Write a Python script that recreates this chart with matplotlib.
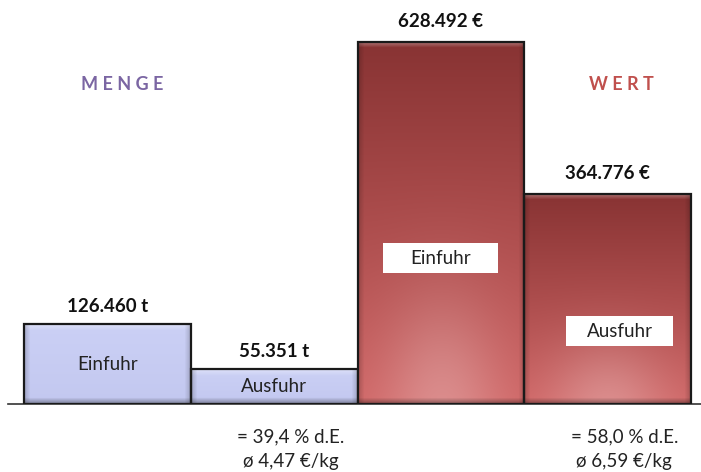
import numpy as np
import matplotlib
matplotlib.use("Agg")
import matplotlib.pyplot as plt
from matplotlib.colors import to_rgb
from matplotlib.patches import Rectangle

plt.rcParams["font.family"] = ["Lato", "DejaVu Sans"]

# Data
categories = ["Einfuhr", "Ausfuhr", "Einfuhr", "Ausfuhr"]
menge = [126460, 55351]          # t
wert = [628492, 364776]          # €
menge_labels = ["126.460 t", "55.351 t"]
wert_labels = ["628.492 €", "364.776 €"]
notes_menge = ["= 39,4 % d.E.", "ø 4,47 €/kg"]
notes_wert = ["= 58,0 % d.E.", "ø 6,59 €/kg"]


def bar_image(ax, bar, top, bottom, glow=0.0, bevel=6):
    # build a bevelled gradient image in pixel size of the bar
    (x0, y0) = ax.transData.transform((bar.get_x(), bar.get_y()))
    (x1, y1) = ax.transData.transform((bar.get_x() + bar.get_width(),
                                       bar.get_y() + bar.get_height()))
    W, H = max(int(abs(x1 - x0)), 2), max(int(abs(y1 - y0)), 2)
    top = np.array(to_rgb(top))
    bottom = np.array(to_rgb(bottom))
    t = np.linspace(0, 1, H)[:, None, None]
    img = np.broadcast_to(top + (bottom - top) * t, (H, W, 3)).copy()
    yy = np.arange(H)[:, None]
    xx = np.arange(W)[None, :]
    if glow:
        g = glow * np.exp(-((xx / W - 0.5) / 0.35) ** 2 - ((yy / H - 1.0) / 0.3) ** 2)
        img = img + (1 - img) * g[:, :, None]
    light = np.clip(1 - yy / bevel, 0, 1) * 0.35
    img = img + (1 - img) * light[:, :, None]
    dark_b = np.clip(1 - (H - 1 - yy) / bevel, 0, 1) * 0.35
    dark_s = np.clip(1 - np.minimum(xx, W - 1 - xx) / bevel, 0, 1) * 0.18
    img = img * (1 - dark_b[:, :, None]) * (1 - dark_s[:, :, None])
    return np.clip(img, 0, 1)


def fill_bar(ax, bar, img):
    x0, y0 = bar.get_x(), bar.get_y()
    w, h = bar.get_width(), bar.get_height()
    im = ax.imshow(img, extent=(x0, x0 + w, y0, y0 + h), aspect="auto",
                   origin="upper", zorder=2, interpolation="bilinear")
    im.set_clip_path(bar)


fig = plt.figure(figsize=(7.01, 4.72), dpi=100)
ax = fig.add_axes([8 / 701, 68 / 472, 1 - 8 / 701, 404 / 472])
ax2 = ax.twinx()

x_menge = np.arange(len(menge))
x_wert = np.arange(len(wert)) + len(menge)

bars_m = ax.bar(x_menge, menge, width=1.0, facecolor="none",
                edgecolor="#1a1a1a", linewidth=1.6, zorder=3)
bars_w = ax2.bar(x_wert, wert, width=1.0, facecolor="none",
                 edgecolor="#1a1a1a", linewidth=1.6, zorder=3)

ax.set_xlim(-0.5 - 16 / 166.75, 3.5 + 10 / 166.75)
ax.set_ylim(0, 640000)
ax2.set_ylim(0, 701000)

for b in bars_m:
    fill_bar(ax, b, bar_image(ax, b, "#cbd0f5", "#c3c8f0"))
for b in bars_w:
    fill_bar(ax2, b, bar_image(ax2, b, "#883333", "#d06666", glow=0.25))

ax.set_xlim(-0.5 - 16 / 166.75, 3.5 + 10 / 166.75)
ax.set_ylim(0, 640000)
ax2.set_ylim(0, 701000)

for a in (ax, ax2):
    for s in ("top", "right", "left"):
        a.spines[s].set_visible(False)
    a.set_yticks([])
    a.set_xticks([])
ax.spines["bottom"].set_color("#333333")
ax.spines["bottom"].set_linewidth(1.2)
ax2.spines["bottom"].set_visible(False)

# value labels above bars
for b, lab in zip(bars_m, menge_labels):
    ax.annotate(lab, (b.get_x() + b.get_width() / 2, b.get_height()),
                xytext=(0, 13), textcoords="offset points", ha="center",
                va="center", fontsize=13.5, fontweight="bold", color="#111111")
for b, lab in zip(bars_w, wert_labels):
    ax2.annotate(lab, (b.get_x() + b.get_width() / 2, b.get_height()),
                 xytext=(0, 14.5), textcoords="offset points", ha="center",
                 va="center", fontsize=13.5, fontweight="bold", color="#111111")

# labels inside bars
for b, cat in zip(bars_m, categories[:2]):
    ax.text(b.get_x() + b.get_width() / 2, b.get_height() / 2, cat,
            ha="center", va="center", fontsize=13.5, color="#222222", zorder=5)

box_w = [0.69, 0.64]
box_h = 52000
for b, cat, frac, dx, bw in zip(bars_w, categories[2:], [0.403, 0.347],
                                [0.0, 0.072], box_w):
    xc = b.get_x() + b.get_width() / 2 + dx
    yc = b.get_height() * frac
    ax2.add_patch(Rectangle((xc - bw / 2, yc - box_h / 2), bw, box_h,
                            facecolor="white", edgecolor="none", zorder=4))
    ax2.text(xc, yc, cat, ha="center", va="center",
             fontsize=13.5, color="#222222", zorder=5)

# notes below the Ausfuhr bars
for b, notes in ((bars_m[1], notes_menge), (bars_w[1], notes_wert)):
    xc = b.get_x() + b.get_width() / 2
    for i, note in enumerate(notes):
        ax.annotate(note, (xc, 0), xytext=(12, -24 - 17.5 * i),
                    textcoords="offset points", ha="center", va="center",
                    fontsize=13.5, color="#222222", annotation_clip=False)

fig.text(122 / 701, 1 - 84 / 472, "M E N G E", ha="center", va="center",
         fontsize=13, fontweight="bold", color="#7b66a3")
fig.text(621 / 701, 1 - 84 / 472, "W E R T", ha="center", va="center",
         fontsize=13, fontweight="bold", color="#c0504d")

fig.savefig("out.png", dpi=100)
